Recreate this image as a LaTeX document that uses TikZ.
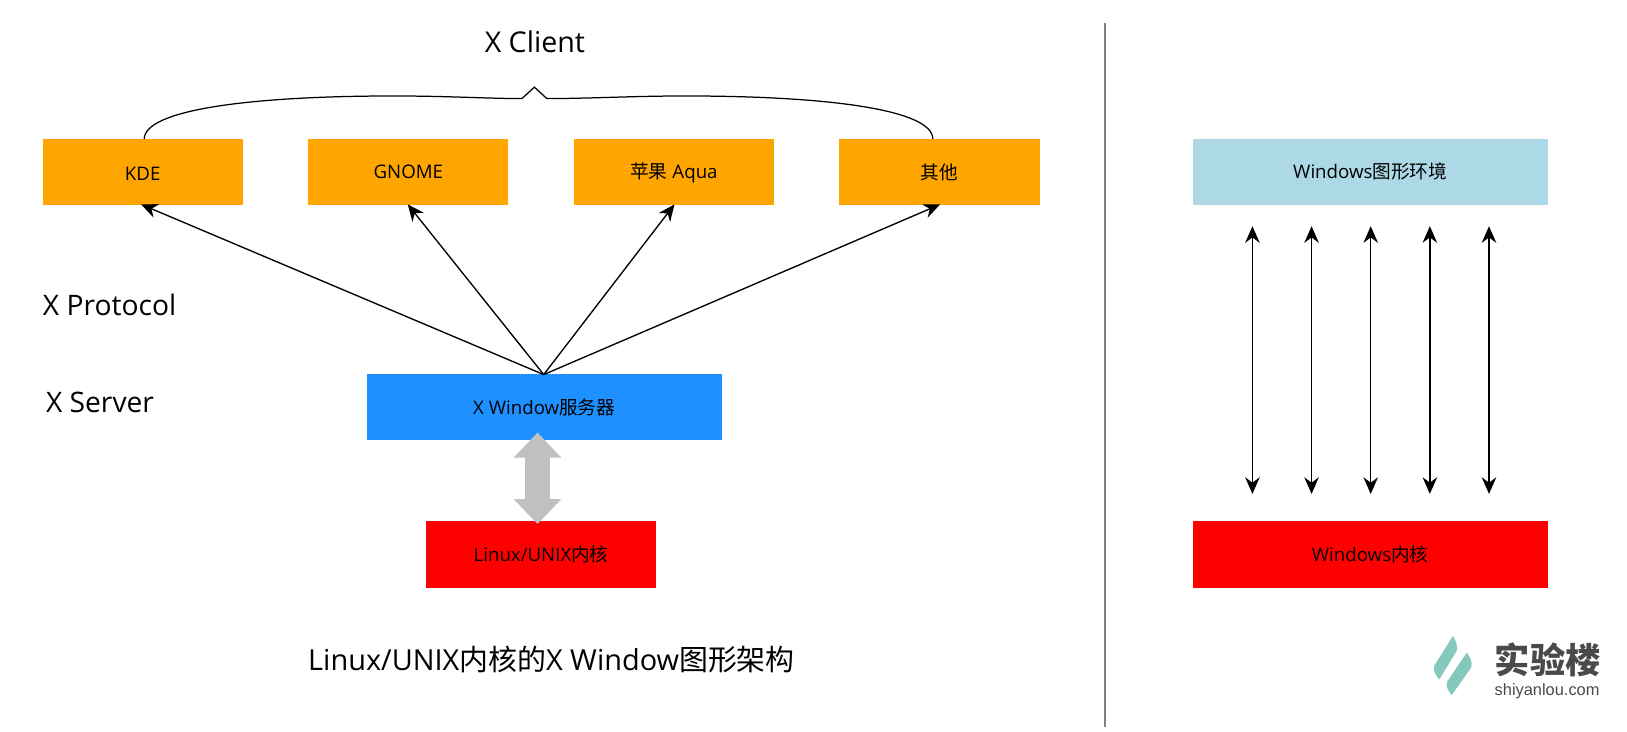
\documentclass[tikz,border=0pt]{standalone}
\usepackage{fontspec}
\setmainfont{Open Sans}
\newfontfamily\cjk{Noto Sans CJK SC}
\newfontfamily\arial{Liberation Sans}
\usetikzlibrary{arrows.meta}
\definecolor{boxorange}{HTML}{FFA500}
\definecolor{boxblue}{HTML}{1E90FF}
\definecolor{boxlight}{HTML}{ADD8E6}
\definecolor{boxred}{HTML}{FF0000}
\definecolor{graysep}{HTML}{808080}
\definecolor{grayarrow}{HTML}{C0C0C0}
\definecolor{logoteal}{HTML}{85C9BD}
\definecolor{logotext}{HTML}{4A4A4A}
\newcommand{\lowered}[2]{\raisebox{#1}[0pt][0pt]{#2}}
\tikzset{
  x=0.5pt,y=-0.5pt,
  box/.style={minimum height=32pt,inner sep=0pt,font=\fontsize{9}{11}\selectfont,text=black},
  orange box/.style={box,fill=boxorange,minimum width=96.5pt},
  title/.style={font=\fontsize{13.8}{17}\selectfont,text=black,inner sep=0pt},
  conn/.style={draw=black,line width=0.65pt,-{Stealth[length=8pt,width=7pt]}},
  twoway/.style={draw=black,line width=0.65pt,{Stealth[length=8pt,width=7pt]}-{Stealth[length=8pt,width=7pt]}}
}
\begin{document}
\begin{tikzpicture}
\useasboundingbox (0,0) rectangle (1568,704.5);
% boxes
\node[orange box] (kde) at (137.5,165.5) {\lowered{-4.2pt}{KDE}};
\node[orange box] (gnome) at (393.5,165.5) {\lowered{-3.4pt}{GNOME}};
\node[orange box] (aqua) at (649.5,165.5) {\lowered{-3.3pt}{{\cjk 苹果} Aqua}};
\node[orange box] (other) at (905.5,165.5) {\lowered{-3.9pt}{{\cjk 其他}}};
\node[box,fill=boxblue,minimum width=171pt] (xserver) at (524.5,392.5) {X Window{\cjk 服务器}};
\node[box,fill=boxred,minimum width=110.5pt] (kernel) at (521.5,534.5) {Linux/UNIX{\cjk 内核}};
\node[box,fill=boxlight,minimum width=171pt] (winenv) at (1320.5,165.5) {Windows{\cjk 图形环境}};
\node[box,fill=boxred,minimum width=171pt] (winkernel) at (1320.5,534.5) {Windows{\cjk 内核}};
% labels
\node[title] (xclient) at (515.5,40) {X Client};
\node[title,anchor=west,font=\fontsize{13.6}{17}\selectfont] (xproto) at (41,294) {X Protocol};
\node[title,anchor=west,font=\fontsize{13.6}{17}\selectfont] (xsrv) at (44,388) {X Server};
\node[title,font=\fontsize{13.93}{17}\selectfont] (caption) at (531.5,636) {Linux/UNIX{\cjk 内核的}X Window{\cjk 图形架构}};
% X protocol arrows
\coordinate (src) at (524,361);
\coordinate (kt) at (136,197);
\coordinate (gt) at (393,197);
\coordinate (at) at (650,197);
\coordinate (ot) at (906,197);
\draw[conn] (src) -- (kt);
\draw[conn] (src) -- (gt);
\draw[conn] (src) -- (at);
\draw[conn] (src) -- (ot);
% brace
\coordinate (bl) at (139,134);
\coordinate (br) at (899,134);
\draw[black,line width=0.6pt] (bl) .. controls (139,106) and (240,92.5) .. (380,92.5)
  .. controls (430,92.5) and (470,95) .. (503,95) -- (515,84) -- (527,95)
  .. controls (570,95) and (610,92.5) .. (660,92.5)
  .. controls (800,92.5) and (899,106) .. (br);
% thick grey double arrow
\fill[grayarrow] (518,417) -- (541,441) -- (530,441) -- (530,481) -- (541,481) -- (518,505)
  -- (495,481) -- (506,481) -- (506,441) -- (495,441) -- cycle;
% windows arrows
\foreach \n/\x in {a/1207,b/1264,c/1321,d/1378,e/1435}{
  \coordinate (t\n) at (\x,218);
  \coordinate (b\n) at (\x,476);
  \draw[twoway] (t\n) -- (b\n);
}
% separator
\coordinate (septop) at (1065,22);
\coordinate (sepbot) at (1065,701);
\draw[graysep,line width=1pt] (septop) -- (sepbot);
% logo
\fill[logoteal] (1400,613) .. controls (1403,617) and (1405,622) .. (1404,627)
  -- (1387,655) .. controls (1384,651) and (1381,647) .. (1382,642) -- cycle;
\fill[logoteal] (1413.5,629) .. controls (1417,633) and (1419,638) .. (1418,643)
  -- (1399,670) .. controls (1396,666) and (1393,662) .. (1394.6,657) -- cycle;
\node[inner sep=0pt,text=logotext,font=\cjk\fontsize{17}{20}\selectfont\bfseries] (logocn) at (1491.5,636) {实验楼};
\node[inner sep=0pt,text=logotext,font=\arial\fontsize{7.9}{9}\selectfont] (logoen) at (1491,666) {shiyanlou.com};
\end{tikzpicture}
\end{document}
